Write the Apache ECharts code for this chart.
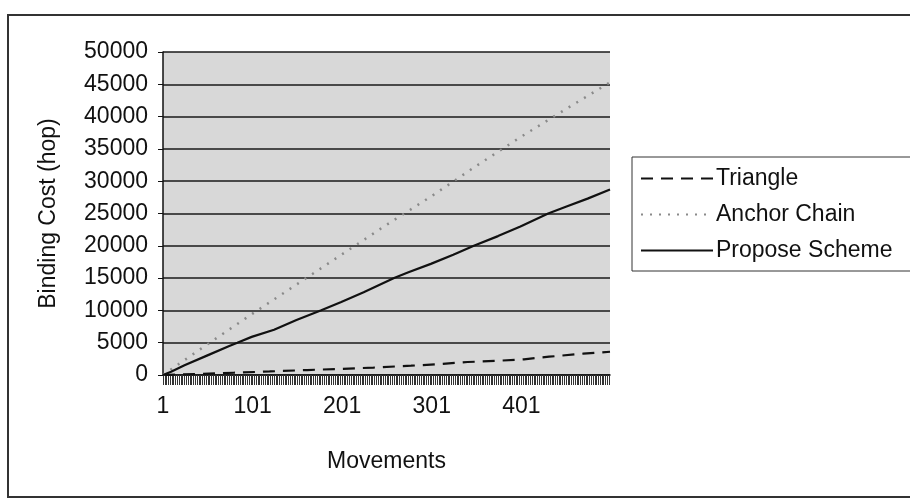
<!DOCTYPE html>
<html>
<head>
<meta charset="utf-8">
<script src="https://cdn.jsdelivr.net/npm/echarts@6/dist/echarts.min.js"></script>
<style>html,body{margin:0;padding:0;background:#fff}#c{width:910px;height:499px}</style>
</head>
<body>
<div id="c"></div>
<script>
// Categories: movements 1..500
var movements = [];
for (var i = 1; i <= 500; i++) movements.push(String(i));

var yTicks = [0, 5000, 10000, 15000, 20000, 25000, 30000, 35000, 40000, 45000, 50000];

// Values: [movement, binding cost]
var triangle = [
  ['1', 0], ['40', 150], ['80', 350], ['120', 550], ['162', 770], ['200', 950],
  ['236', 1150], ['278', 1440], ['311', 1700], ['341', 2010], ['375', 2200],
  ['404', 2430], ['432', 2830], ['470', 3300], ['500', 3600]
];
var anchorChain = [
  ['1', 0], ['50', 4700], ['101', 9500], ['150', 14000], ['201', 18700],
  ['250', 23200], ['301', 27700], ['350', 32300], ['401', 36900],
  ['450', 41100], ['500', 45300]
];
var proposeScheme = [
  ['1', 0], ['10', 500], ['25', 1500], ['50', 3000], ['75', 4500], ['84', 5000],
  ['100', 5900], ['125', 7000], ['150', 8500], ['177', 10000], ['200', 11300],
  ['225', 12800], ['259', 15000], ['275', 15900], ['300', 17200], ['325', 18600],
  ['348', 20000], ['375', 21500], ['400', 23000], ['431', 25000], ['450', 26000],
  ['475', 27300], ['500', 28700]
];
var seriesNames = ['Triangle', 'Anchor Chain', 'Propose Scheme'];

var FONT = "'Liberation Sans', Arial, sans-serif";
var FS = 23;
var chart = echarts.init(document.getElementById('c'), null, {renderer: 'canvas'});
chart.setOption({
  animation: false,
  backgroundColor: '#fff',
  textStyle: {fontFamily: FONT},
  grid: {left: 163, right: 300, top: 52, bottom: 124, show: true,
         backgroundColor: '#d8d8d8', borderWidth: 0},
  graphic: [
    {type: 'rect', shape: {x: 8, y: 15, width: 920, height: 482},
     style: {fill: 'none', stroke: '#333', lineWidth: 2}, z: 0},
    {type: 'rect', shape: {x: 632, y: 157, width: 300, height: 114},
     style: {fill: '#fff', stroke: '#333', lineWidth: 1}, z: 1}
  ],
  legend: {
    orient: 'vertical', left: 635, top: 162, itemWidth: 72, itemHeight: 14,
    itemGap: 13, z: 5,
    itemStyle: {opacity: 0},
    textStyle: {fontSize: FS, color: '#111', fontFamily: FONT, padding: [0, 0, 0, -2]},
    data: seriesNames
  },
  xAxis: {
    type: 'category', data: movements, boundaryGap: false,
    name: 'Movements', nameLocation: 'middle', nameGap: 75,
    nameTextStyle: {fontSize: FS, color: '#111', fontFamily: FONT},
    axisLine: {lineStyle: {color: '#111', width: 1.5}},
    axisTick: {show: true, interval: 1, length: 10, lineStyle: {color: '#333', width: 1}},
    axisLabel: {interval: 99, fontSize: FS, color: '#111', margin: 20, fontFamily: FONT},
    splitLine: {show: false}
  },
  yAxis: {
    type: 'value', min: 0, max: 50000, interval: 5000,
    name: 'Binding Cost (hop)', nameLocation: 'middle', nameGap: 103,
    nameTextStyle: {fontSize: FS, color: '#111', fontFamily: FONT},
    axisLine: {show: true, lineStyle: {color: '#111', width: 1.5}},
    axisTick: {show: true, length: 5, lineStyle: {color: '#111'}},
    axisLabel: {fontSize: FS, color: '#111', margin: 15, fontFamily: FONT,
      formatter: function (v) { return yTicks.indexOf(v) >= 0 ? String(v) : ''; }},
    splitLine: {show: true, lineStyle: {color: '#1a1a1a', width: 1.5}}
  },
  series: [
    {name: seriesNames[0], type: 'line', data: triangle, symbol: 'none',
     lineStyle: {color: '#111', width: 2.2, type: [12, 8]}, itemStyle: {color: '#111'}},
    {name: seriesNames[1], type: 'line', data: anchorChain, symbol: 'none',
     lineStyle: {color: '#8a8a8a', width: 2.5, type: [2, 7]}, itemStyle: {color: '#8a8a8a'}},
    {name: seriesNames[2], type: 'line', data: proposeScheme, symbol: 'none',
     lineStyle: {color: '#111', width: 2.2, type: 'solid'}, itemStyle: {color: '#111'}}
  ]
});
</script>
</body>
</html>
